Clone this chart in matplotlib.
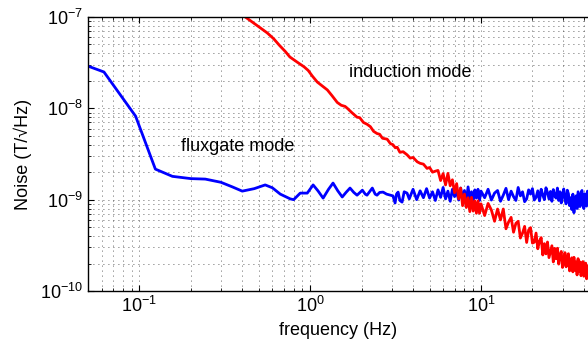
import numpy as np
import matplotlib
matplotlib.use('Agg')
import matplotlib.pyplot as plt
from matplotlib.ticker import NullFormatter

plt.rcParams['font.family'] = ['Liberation Sans', 'DejaVu Sans']
plt.rcParams['mathtext.fontset'] = 'custom'
plt.rcParams['mathtext.rm'] = 'Liberation Sans'
plt.rcParams['mathtext.it'] = 'Liberation Sans:italic'
plt.rcParams['mathtext.bf'] = 'Liberation Sans:bold'

# noise values are in units of 1e-9 T/sqrt(Hz)
# fluxgate mode, low frequency part
flux_f_low = [0.050, 0.062, 0.095, 0.124, 0.156, 0.20, 0.243, 0.30, 0.35, 0.40,
              0.47, 0.545, 0.60, 0.668, 0.764, 0.80, 0.874, 0.961, 1.04, 1.11,
              1.19, 1.28, 1.36, 1.45, 1.54, 1.62, 1.71, 1.80, 1.88, 2.02,
              2.10, 2.15, 2.31, 2.40, 2.46, 2.55, 2.67, 2.80, 2.94, 3.05,
              3.14, 3.20, 3.27, 3.35, 3.45, 3.55, 3.69]
flux_n_low = [29, 25, 8.2, 2.16, 1.80, 1.70, 1.68, 1.55, 1.38, 1.24,
              1.32, 1.45, 1.35, 1.15, 1.02, 1.00, 1.18, 1.18, 1.45, 1.25,
              1.04, 1.30, 1.52, 1.25, 1.07, 1.20, 1.34, 1.20, 1.12, 1.27,
              1.15, 1.12, 1.34, 1.15, 1.12, 1.20, 1.21, 1.15, 1.12, 1.10,
              0.92, 1.15, 1.21, 0.98, 0.94, 1.22, 1.18]
# fluxgate mode, 3.8-10 Hz
flux_f_mid = [3.8, 4.0, 4.2, 4.4, 4.6, 4.8, 5.0, 5.2, 5.4, 5.6, 5.8, 6.0, 6.2, 6.4, 6.6, 6.8,
              7.0, 7.2, 7.4, 7.6, 7.8, 8.0, 8.2, 8.4, 8.6, 8.8, 9.0, 9.2, 9.4, 9.6, 9.8, 10.0]
flux_n_mid = [1.02, 1.30, 1.00, 1.25, 1.05, 1.32, 1.04, 1.22, 0.98, 1.28, 1.06, 1.36, 1.02, 1.24, 0.96, 1.30,
              1.08, 1.22, 0.99, 1.34, 1.03, 1.26, 0.97, 1.38, 1.00, 1.22, 0.95, 1.28, 1.04, 1.30, 0.98, 1.24]
# shared high frequency grid, 10.5-42.5 Hz
hf_f = [10.5, 11.0, 11.5, 12.0, 12.5, 13.0, 13.5, 14.0, 14.5, 15.0, 15.5, 16.0, 16.5, 17.0, 17.5, 18.0,
        18.5, 19.0, 19.5, 20.0, 20.5, 21.0, 21.5, 22.0, 22.5, 23.0, 23.5, 24.0, 24.5, 25.0, 25.5, 26.0,
        26.5, 27.0, 27.5, 28.0, 28.5, 29.0, 29.5, 30.0, 30.5, 31.0, 31.5, 32.0, 32.5, 33.0, 33.5, 34.0,
        34.5, 35.0, 35.5, 36.0, 36.5, 37.0, 37.5, 38.0, 38.5, 39.0, 39.5, 40.0, 40.5, 41.0, 41.5, 42.0, 42.5]
flux_n_hf = [1.05, 1.30, 0.99, 1.18, 1.26, 0.96, 1.12, 1.33, 1.00, 1.24, 1.08, 0.98, 1.36, 1.10, 1.22, 0.95,
             1.02, 1.28, 1.15, 1.32, 0.99, 1.06, 1.25, 0.97, 1.30, 1.12, 1.00, 1.35, 1.20, 1.02, 1.23, 0.96,
             1.29, 1.10, 1.04, 1.34, 0.98, 1.22, 0.92, 1.14, 1.31, 1.01, 0.90, 1.27, 1.16, 0.86, 1.05, 0.78,
             1.15, 0.72, 0.95, 1.10, 0.80, 1.22, 1.02, 0.84, 1.18, 1.26, 0.88, 0.80, 1.16, 1.00, 0.85, 1.24, 0.90]

# induction mode
ind_f_low = [0.40, 0.417, 0.47, 0.511, 0.56, 0.61, 0.66, 0.714, 0.76, 0.84,
             0.92, 0.973, 1.03, 1.10, 1.18, 1.26, 1.34, 1.44, 1.52, 1.60,
             1.65, 1.75, 1.88, 1.95, 2.05, 2.15, 2.25, 2.35, 2.46, 2.55,
             2.65, 2.82, 2.95, 3.05, 3.15, 3.23, 3.35, 3.50, 3.69, 3.85,
             4.0, 4.23, 4.4, 4.6, 4.83, 5.0, 5.2, 5.4]
ind_n_low = [108, 100, 85, 76, 67, 58, 49, 42, 36.5, 32,
             28.5, 26, 22.5, 19.4, 17.5, 15.9, 13.8, 11.6, 10.8, 10.5,
             10.0, 9.0, 8.0, 7.9, 7.0, 6.7, 6.3, 5.6, 5.3, 5.2,
             4.7, 4.6, 4.1, 4.0, 3.7, 3.75, 3.3, 3.35, 3.1, 2.85,
             2.9, 2.6, 2.5, 2.45, 2.2, 2.25, 2.0, 2.05]
ind_f_mid = [5.6, 5.8, 6.0, 6.2, 6.4, 6.6, 6.8, 7.0, 7.2, 7.4, 7.6, 7.8, 8.0, 8.2, 8.4, 8.6,
             8.8, 9.0, 9.2, 9.4, 9.6, 9.8, 10.0]
ind_n_mid = [2.09, 1.62, 1.93, 1.45, 1.94, 1.42, 1.65, 1.19, 1.50, 1.02, 1.34, 0.86, 1.15, 0.82, 1.05, 0.74,
             1.06, 0.75, 0.97, 0.71, 0.97, 0.71, 0.90]
ind_n_hf = [0.67, 0.91, 0.77, 0.58, 0.79, 0.60, 0.79, 0.48, 0.57, 0.64, 0.44, 0.55, 0.58, 0.38, 0.43, 0.51,
            0.34, 0.465, 0.494, 0.335, 0.342, 0.431, 0.29, 0.352, 0.384, 0.248, 0.33, 0.255, 0.344, 0.232, 0.27, 0.313,
            0.208, 0.293, 0.225, 0.294, 0.197, 0.249, 0.271, 0.181, 0.204, 0.263, 0.184, 0.234, 0.256, 0.166, 0.204, 0.231,
            0.162, 0.234, 0.169, 0.208, 0.150, 0.226, 0.165, 0.208, 0.147, 0.186, 0.21, 0.145, 0.163, 0.202, 0.136, 0.189, 0.151]

x_ticks = [0.1, 1, 10]
y_ticks = [1e-10, 1e-9, 1e-8, 1e-7]

flux_f = flux_f_low + flux_f_mid + hf_f
flux_n = np.array(flux_n_low + flux_n_mid + flux_n_hf) * 1e-9
ind_f = ind_f_low + ind_f_mid + hf_f
ind_n = np.array(ind_n_low + ind_n_mid + ind_n_hf) * 1e-9

fig = plt.figure(figsize=(5.88, 3.51), dpi=100)
ax = fig.add_axes([88/588, 1-291/351, 1-88/588, (291-17)/351])

ax.loglog(flux_f, flux_n, color='#0000ff', lw=2.0)
ax.loglog(ind_f, ind_n, color='#ff0000', lw=2.0)

ax.set_xticks(x_ticks)
ax.set_yticks(y_ticks)
ax.set_xlim(0.05, 42.3)
ax.set_ylim(1e-10, 1e-7)
ax.xaxis.set_minor_formatter(NullFormatter())
ax.yaxis.set_minor_formatter(NullFormatter())

ax.grid(True, which='both', linestyle=(0, (1, 5)), color='0.2', lw=0.6)
ax.tick_params(which='both', direction='in', top=True, right=False, labelsize=13)
ax.tick_params(which='major', length=4)
ax.tick_params(which='minor', length=2.5)
ax.spines['right'].set_visible(False)
for s in ax.spines.values():
    s.set_linewidth(1.0)

ax.set_xlabel('frequency (Hz)', fontsize=13, labelpad=4)
ax.set_ylabel('Noise (T/\u221aHz)', fontsize=13, labelpad=6)

ax.text(0.174, 3.86e-9, 'fluxgate mode', fontsize=13, va='center', ha='left')
ax.text(1.69, 2.44e-8, 'induction mode', fontsize=13, va='center', ha='left')

plt.savefig('out.png', dpi=100)
